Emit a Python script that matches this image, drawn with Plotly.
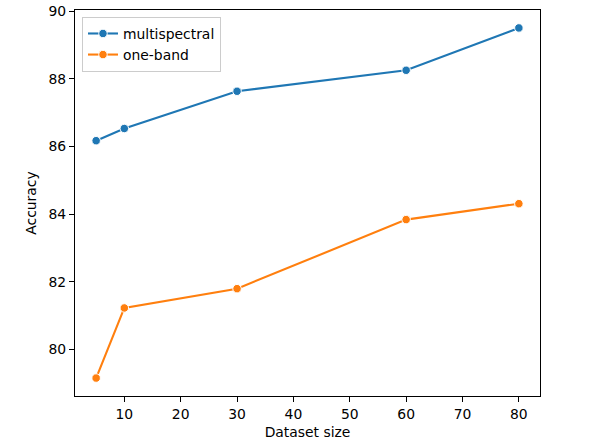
import plotly.graph_objects as go

dataset_size = [5, 10, 30, 60, 80]
multispectral = [86.17, 86.53, 87.63, 88.25, 89.50]
one_band = [79.16, 81.23, 81.80, 83.84, 84.31]
x_ticks = [10, 20, 30, 40, 50, 60, 70, 80]
y_ticks = [80, 82, 84, 86, 88, 90]

font = dict(family="DejaVu Sans", size=13.9, color="black")

fig = go.Figure()
fig.add_trace(go.Scatter(
    x=dataset_size, y=multispectral, name="multispectral", mode="lines+markers",
    line=dict(color="#1f77b4", width=2.1),
    marker=dict(size=8.5, color="#1f77b4", line=dict(color="white", width=1)),
))
fig.add_trace(go.Scatter(
    x=dataset_size, y=one_band, name="one-band", mode="lines+markers",
    line=dict(color="#ff7f0e", width=2.1),
    marker=dict(size=8.5, color="#ff7f0e", line=dict(color="white", width=1)),
))

axis_common = dict(
    showgrid=False, zeroline=False, showline=True, linecolor="black", linewidth=1.1,
    mirror=True, ticks="outside", ticklen=5, tickwidth=1.1, tickcolor="black",
    tickfont=font, automargin=False,
)
fig.update_layout(
    width=600, height=440,
    margin=dict(l=75, r=60, t=10, b=44, autoexpand=False),
    paper_bgcolor="white", plot_bgcolor="white",
    font=font,
    showlegend=True,
    legend=dict(
        x=0.015, y=0.982, xanchor="left", yanchor="top",
        bgcolor="rgba(255,255,255,0.8)", bordercolor="#cccccc", borderwidth=1,
        font=font, tracegroupgap=0,
    ),
    xaxis=dict(range=[1.25, 83.75], tickvals=x_ticks,
               title=dict(text="Dataset size", font=font, standoff=6), **axis_common),
    yaxis=dict(range=[78.63, 90.03], tickvals=y_ticks,
               title=dict(text="Accuracy", font=font, standoff=8), **axis_common),
)

fig.write_html("out.html", config={"displayModeBar": False},
               post_script="document.body.style.margin='0';")
